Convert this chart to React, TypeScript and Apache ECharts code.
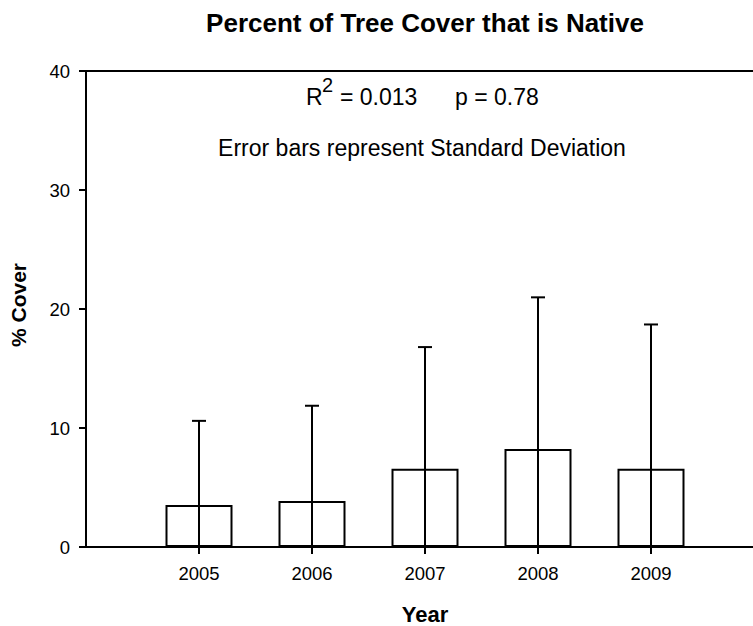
import React, { useEffect, useRef } from "react";
import * as echarts from "echarts";

const years = ["2005", "2006", "2007", "2008", "2009"];
const meanCover = [3.53, 3.87, 6.58, 8.24, 6.58];
const sdCover = [7.07, 8.0, 10.22, 12.74, 12.12];
const yTicks = [0, 10, 20, 30, 40];

const FONT = "Liberation Sans, Arial, sans-serif";

export default function App() {
  const ref = useRef<HTMLDivElement>(null);
  useEffect(() => {
    if (!ref.current) return;
    const chart = echarts.init(ref.current, null, { renderer: "svg" });
    const axisData = [" ", ...years, "  "];
    const barData = [null, ...meanCover, null];
    const errData = years.map((y, i) => [i + 1, meanCover[i], meanCover[i] + sdCover[i]]);
    chart.setOption({
      animation: false,
      backgroundColor: "#fff",
      grid: {
        left: 86,
        top: 71,
        width: 678,
        height: 476,
        show: true,
        borderColor: "#000",
        borderWidth: 2,
        backgroundColor: "transparent",
      },
      xAxis: {
        type: "category",
        data: axisData,
        boundaryGap: false,
        axisLine: { show: true, lineStyle: { color: "#000", width: 2 } },
        axisTick: {
          show: true,
          length: 7,
          interval: (i: number) => i > 0 && i < axisData.length - 1,
          lineStyle: { color: "#000", width: 2 },
        },
        axisLabel: {
          interval: 0,
          margin: 17,
          color: "#000",
          fontFamily: FONT,
          fontSize: 18.5,
        },
        splitLine: { show: false },
      },
      yAxis: {
        type: "value",
        min: yTicks[0],
        max: yTicks[yTicks.length - 1],
        interval: 10,
        axisLine: { show: true, lineStyle: { color: "#000", width: 2 } },
        axisTick: { show: true, length: 7, lineStyle: { color: "#000", width: 2 } },
        axisLabel: { margin: 16, color: "#000", fontFamily: FONT, fontSize: 18.5 },
        splitLine: { show: false },
      },
      series: [
        {
          type: "bar",
          data: barData,
          barWidth: 67,
          itemStyle: { color: "#fff", borderColor: "#000", borderWidth: 2 },
          z: 2,
        },
        {
          type: "custom",
          data: errData,
          z: 3,
          renderItem: (params: any, api: any) => {
            const x = api.value(0);
            const top = api.coord([x, api.value(2)]);
            const bottom = api.coord([x, 0]);
            const half = 7;
            return {
              type: "group",
              children: [
                {
                  type: "line",
                  shape: { x1: top[0], y1: bottom[1], x2: top[0], y2: top[1] },
                  style: { stroke: "#000", lineWidth: 2 },
                },
                {
                  type: "line",
                  shape: { x1: top[0] - half, y1: top[1], x2: top[0] + half, y2: top[1] },
                  style: { stroke: "#000", lineWidth: 2 },
                },
              ],
            };
          },
        },
      ],
      graphic: [
        {
          type: "text",
          x: 425,
          y: 23,
          style: {
            text: "Percent of Tree Cover that is Native",
            fontFamily: FONT,
            fontWeight: "bold",
            fontSize: 26,
            fill: "#000",
            align: "center",
            verticalAlign: "middle",
          },
        },
        {
          type: "text",
          x: 306,
          y: 97,
          style: { text: "R", fontFamily: FONT, fontSize: 23, fill: "#000", align: "left", verticalAlign: "middle" },
        },
        {
          type: "text",
          x: 322,
          y: 85,
          style: { text: "2", fontFamily: FONT, fontSize: 20, fill: "#000", align: "left", verticalAlign: "middle" },
        },
        {
          type: "text",
          x: 340,
          y: 97,
          style: { text: "= 0.013", fontFamily: FONT, fontSize: 23, fill: "#000", align: "left", verticalAlign: "middle" },
        },
        {
          type: "text",
          x: 455,
          y: 97,
          style: { text: "p = 0.78", fontFamily: FONT, fontSize: 23, fill: "#000", align: "left", verticalAlign: "middle" },
        },
        {
          type: "text",
          x: 422,
          y: 148,
          style: {
            text: "Error bars represent Standard Deviation",
            fontFamily: FONT,
            fontSize: 23,
            fill: "#000",
            align: "center",
            verticalAlign: "middle",
          },
        },
        {
          type: "text",
          x: 18,
          y: 305,
          rotation: Math.PI / 2,
          style: {
            text: "% Cover",
            fontFamily: FONT,
            fontWeight: "bold",
            fontSize: 21,
            fill: "#000",
            align: "center",
            verticalAlign: "middle",
          },
        },
        {
          type: "text",
          x: 425,
          y: 614,
          style: {
            text: "Year",
            fontFamily: FONT,
            fontWeight: "bold",
            fontSize: 22,
            fill: "#000",
            align: "center",
            verticalAlign: "middle",
          },
        },
      ],
    });
    return () => chart.dispose();
  }, []);
  return (
    <div style={{ position: "fixed", left: 0, top: 0, width: 753, height: 626, overflow: "hidden", background: "#fff" }}>
      <div ref={ref} style={{ width: 800, height: 626 }} />
    </div>
  );
}
